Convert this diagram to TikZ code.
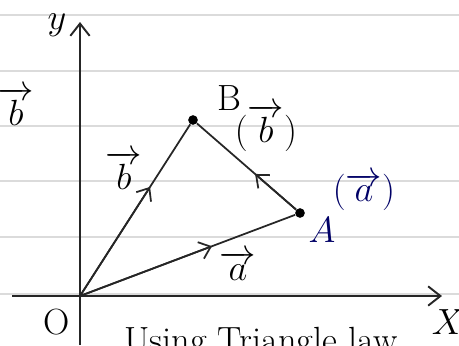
\documentclass[tikz,border=0pt]{standalone}
\usepackage{amsmath}
\usepackage{tikz}
\usetikzlibrary{arrows.meta, calc}

\begin{document}
\begin{tikzpicture}[
  x=0.02cm, y=-0.02cm,
  axis/.style = {-{Straight Barb[length=7pt, width=11pt]}, line width=1.1pt, black!85},
  vec/.style = {line width=1pt, black!85},
  mid/.style = {-{Straight Barb[length=6pt, width=10pt]}, line width=1pt, black!85},
  rule/.style = {black!14, line width=0.6pt},
  lbl/.style = {font=\huge, inner sep=1pt},
  inklbl/.style = {lbl, text=blue!40!black},
  dotp/.style = {circle, fill=black, inner sep=0pt, minimum size=5.5pt}
]

\useasboundingbox (0,0) rectangle (459,345);
\clip (0,0) rectangle (459,345);

% ruled paper
\foreach \yy in {15,71,126,181,237,294}
  \draw[rule] (0,\yy) -- (459,\yy);

% Axes
\coordinate (O)  at (80,296);
\coordinate (xl) at (12,296);
\coordinate (xr) at (442,296);
\coordinate (yb) at (80,345);
\coordinate (yt) at (80,22);
\draw[axis] (xl) -- (xr);
\draw[axis] (yb) -- (yt);

\node[lbl] (ylab) at (57,25)  {$y$};
\node[lbl] (xlab) at (448,322) {$X$};
\node[lbl] (olab) at (57,322)  {O};
\node[lbl] (bside) at (16,106) {$\overrightarrow{b}$};

% Points
\node[dotp] (A) at (300,213) {};
\node[dotp] (B) at (193,120) {};

% Vectors with arrows halfway
\draw[mid] (O) -- ($(O)!0.62!(B)$);
\draw[vec] (O) -- (B);
\draw[mid] (O) -- ($(O)!0.6!(A)$);
\draw[vec] (O) -- (A);
\draw[mid] (A) -- ($(A)!0.42!(B)$);
\draw[vec] (A) -- (B);

% Labels
\node[lbl] (blab)  at (124,170) {$\overrightarrow{b}$};
\node[lbl] (alab)  at (238,266) {$\overrightarrow{a}$};
\node[lbl] (Blab)  at (229,98)  {B};
\node[lbl] (Bvec)  at (266,128) {$(\overrightarrow{b})$};
\node[inklbl] (Alab) at (322,230) {$A$};
\node[inklbl] (Avec) at (364,192) {$(\overrightarrow{a})$};

% caption, cut off at the bottom edge
\node[lbl, anchor=base west] (cap) at (122,352) {Using Triangle law};
\end{tikzpicture}
\end{document}
